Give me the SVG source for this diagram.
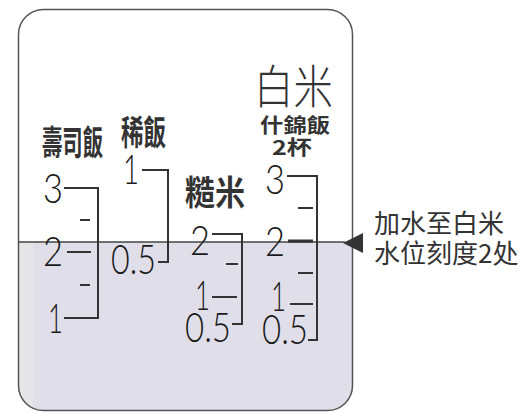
<svg xmlns="http://www.w3.org/2000/svg" width="522" height="412" viewBox="0 0 522 412">
<defs>
<clipPath id="box"><rect x="18.5" y="9.5" width="334" height="401" rx="25"/></clipPath>
</defs>
<style>
.num{font-family:Lato,"Liberation Sans",sans-serif;font-weight:300;font-size:41px;fill:#1a1a1a}
.lbl{font-family:"Noto Sans CJK TC",sans-serif;font-weight:700;fill:#333}
.note{font-family:"Noto Sans CJK SC",sans-serif;font-weight:400;font-size:26px;fill:#333}
.tk{stroke:#333;stroke-width:2;fill:none}
</style>
<rect width="522" height="412" fill="#fff"/>
<g id="container">
<g clip-path="url(#box)">
<rect x="18" y="242" width="340" height="172" fill="#e0dfe9"/>
<rect x="18" y="242" width="15" height="172" fill="#e6e6e8"/>
</g>
<rect x="18.5" y="9.5" width="334" height="401" rx="25" fill="none" stroke="#555" stroke-width="1.5"/>
</g>
<g id="connectors">
<line x1="18.5" y1="242" x2="345" y2="242" stroke="#444" stroke-width="1.5"/>
<polygon points="343,243 363,233 363,253" fill="#333"/>
</g>
<g id="sushi">
<text class="lbl" x="42" y="155" font-size="34" textLength="61" lengthAdjust="spacingAndGlyphs">壽司飯</text>
<text class="num" x="43" y="203" textLength="20" lengthAdjust="spacingAndGlyphs">3</text>
<text class="num" x="43" y="266" textLength="20" lengthAdjust="spacingAndGlyphs">2</text>
<text class="num" x="48" y="333" textLength="15" lengthAdjust="spacingAndGlyphs">1</text>
<polyline class="tk" points="64,188 98,188 98,318 64,318"/>
<line class="tk" x1="80" y1="220" x2="90" y2="220"/>
<line class="tk" x1="67" y1="252" x2="91" y2="252"/>
<line class="tk" x1="80" y1="285" x2="90" y2="285"/>
</g>
<g id="porridge">
<text class="lbl" x="121" y="145" font-size="34" textLength="45" lengthAdjust="spacingAndGlyphs">稀飯</text>
<text class="num" x="123" y="184" textLength="16" lengthAdjust="spacingAndGlyphs">1</text>
<text class="num" x="111" y="274" textLength="45" lengthAdjust="spacingAndGlyphs">0.5</text>
<polyline class="tk" points="142,170 168,170 168,262 158,262"/>
</g>
<g id="brown">
<text class="lbl" x="185" y="205" font-size="34" textLength="60" lengthAdjust="spacingAndGlyphs">糙米</text>
<text class="num" x="190" y="255" textLength="20" lengthAdjust="spacingAndGlyphs">2</text>
<text class="num" x="195" y="310" textLength="15" lengthAdjust="spacingAndGlyphs">1</text>
<text class="num" x="185" y="342" textLength="46" lengthAdjust="spacingAndGlyphs">0.5</text>
<polyline class="tk" points="212,234 242,234 242,324 232,324"/>
<line class="tk" x1="226" y1="264" x2="238" y2="264"/>
<line class="tk" x1="212" y1="297" x2="237" y2="297"/>
</g>
<g id="white">
<text x="254" y="103" font-family="'Noto Sans CJK TC',sans-serif" font-weight="300" font-size="46" fill="#333" textLength="79" lengthAdjust="spacingAndGlyphs">白米</text>
<text class="lbl" x="260" y="133" font-size="20" textLength="70" lengthAdjust="spacingAndGlyphs">什錦飯</text>
<text class="lbl" x="272" y="155" font-size="20" font-weight="500" textLength="40" lengthAdjust="spacingAndGlyphs">2杯</text>
<text class="num" x="265" y="194" textLength="20" lengthAdjust="spacingAndGlyphs">3</text>
<text class="num" x="265" y="256" textLength="20" lengthAdjust="spacingAndGlyphs">2</text>
<text class="num" x="271" y="311" textLength="15" lengthAdjust="spacingAndGlyphs">1</text>
<text class="num" x="262" y="344" textLength="46" lengthAdjust="spacingAndGlyphs">0.5</text>
<polyline class="tk" points="287,176 317,176 317,340 308,340"/>
<line class="tk" x1="298" y1="208" x2="313" y2="208"/>
<line x1="288" y1="241" x2="313" y2="241" stroke="#333" stroke-width="3"/>
<line class="tk" x1="298" y1="273" x2="313" y2="273"/>
<line class="tk" x1="290" y1="304" x2="313" y2="304"/>
</g>
<g id="note">
<text class="note" x="374" y="233">加水至白米</text>
<text class="note" x="374" y="263">水位刻度2处</text>
</g>
</svg>
